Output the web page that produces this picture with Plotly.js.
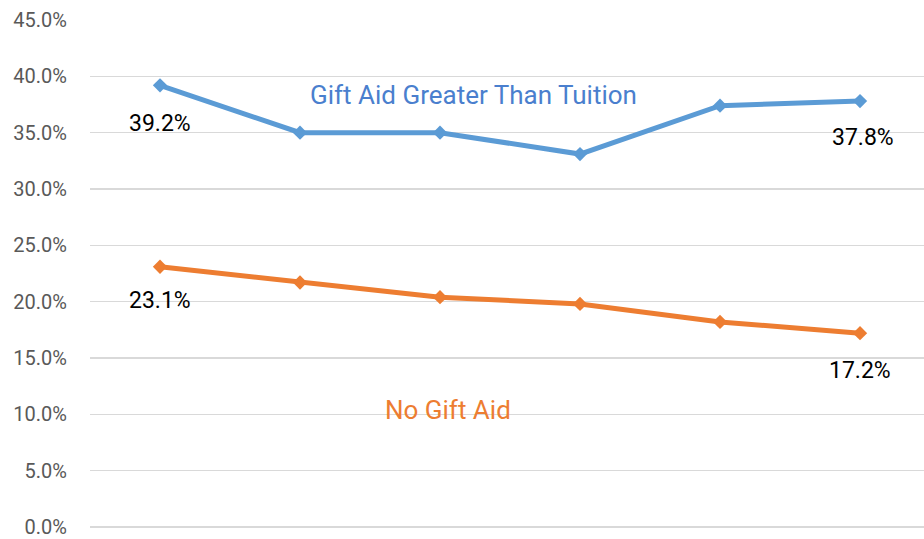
<!DOCTYPE html>
<html>
<head>
<meta charset="utf-8">
<script src="https://cdn.plot.ly/plotly-3.0.1.min.js"></script>
<style>html,body{margin:0;padding:0;background:#fff;}#chart{width:924px;height:539px;}</style>
</head>
<body>
<div id="chart"></div>
<script>
const categories = [1, 2, 3, 4, 5, 6];
const giftAidGreater = [39.2, 35.0, 35.0, 33.1, 37.4, 37.8];
const noGiftAid = [23.1, 21.7, 20.4, 19.8, 18.2, 17.2];
const tickVals = [0, 5, 10, 15, 20, 25, 30, 35, 40, 45];
const tickText = tickVals.map(v => v.toFixed(1) + '%');

const idx = categories.map((_, i) => i);
const traces = [
  {x: idx, y: giftAidGreater, mode: 'lines+markers', line: {color: '#5B9BD5', width: 5},
   marker: {symbol: 'diamond', size: 11, color: '#5B9BD5'}, hoverinfo: 'none'},
  {x: idx, y: noGiftAid, mode: 'lines+markers', line: {color: '#ED7D31', width: 5},
   marker: {symbol: 'diamond', size: 11, color: '#ED7D31'}, hoverinfo: 'none'}
];

const last = idx.length - 1;
const lab = (x, y, shift, xs) => ({x: x, y: y, xref: 'x', yref: 'y', text: y.toFixed(1) + '%', showarrow: false,
  yshift: shift, xshift: xs || 0, font: {family: 'Roboto, sans-serif', size: 23, color: '#000'}});
const annotations = [
  lab(0, giftAidGreater[0], -38),
  lab(last, giftAidGreater[last], -36, 3),
  lab(0, noGiftAid[0], -34),
  lab(last, noGiftAid[last], -37),
  {x: 2.236, y: 38.3, xref: 'x', yref: 'y', text: 'Gift Aid Greater Than Tuition', showarrow: false,
   font: {family: 'Roboto, sans-serif', size: 26, color: '#4A7FCE'}},
  {x: 2.057, y: 10.4, xref: 'x', yref: 'y', text: 'No Gift Aid', showarrow: false,
   font: {family: 'Roboto, sans-serif', size: 26, color: '#ED7D31'}}
];

const layout = {
  width: 924, height: 539,
  margin: {l: 90, r: 0, t: 20, b: 12},
  paper_bgcolor: '#fff', plot_bgcolor: '#fff',
  showlegend: false,
  xaxis: {range: [-0.5, 5.457], showgrid: false, zeroline: false, showticklabels: false, showline: false, fixedrange: true},
  yaxis: {range: [0, 45], tickvals: tickVals, ticktext: tickText, showgrid: true, gridcolor: '#D9D9D9', gridwidth: 1.5,
    zeroline: true, zerolinecolor: '#D9D9D9', zerolinewidth: 1.5, showline: false, ticks: '', ticklabelstandoff: 22,
    tickfont: {family: 'Roboto, sans-serif', size: 20, color: '#595959'}},
  annotations: annotations
};
Plotly.newPlot('chart', traces, layout, {displayModeBar: false, staticPlot: true});
</script>
</body>
</html>
